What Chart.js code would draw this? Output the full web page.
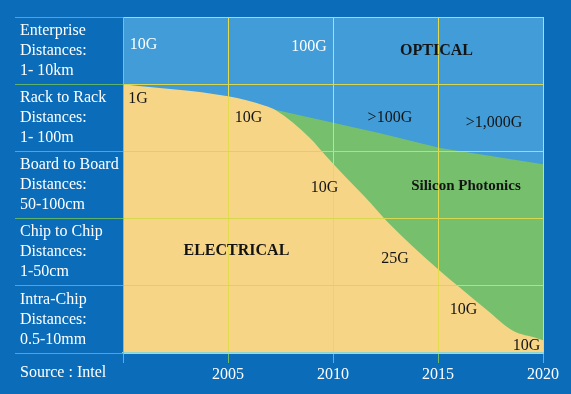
<!DOCTYPE html>
<html>
<head>
<meta charset="utf-8">
<title>Optical vs Electrical interconnect</title>
<script src="https://cdn.jsdelivr.net/npm/chart.js@4/dist/chart.umd.min.js"></script>
<style>
    html, body { margin: 0; padding: 0; background: #0b6db9; }
    #chart-wrap { width: 571px; height: 394px; }
</style>
</head>
<body>
<div id="chart-wrap"><canvas id="interconnectChart" width="571" height="394"></canvas></div>
<script>
// ── Data ──

var distanceBands = [
    ["Enterprise", "Distances:", "1- 10km"],
    ["Rack to Rack", "Distances:", "1- 100m"],
    ["Board to Board", "Distances:", "50-100cm"],
    ["Chip to Chip", "Distances:", "1-50cm"],
    ["Intra-Chip", "Distances:", "0.5-10mm"]
];
var yearTicks = [2000, 2005, 2010, 2015, 2020];
var sourceNote = "Source : Intel";

// top edge of the electrical region (band units, 0 = bottom, 5 = top)
var electricalYears  = [2000, 2005, 2006.76, 2007.24, 2008.9, 2009.7, 2010.6, 2011.8, 2012.6, 2014.95, 2016.05, 2017.33, 2018.57, 2019.71, 2020];
var electricalLevels = [4.00, 3.82, 3.68, 3.62, 3.20, 2.92, 2.62, 2.23, 1.95, 1.26, 0.97, 0.64, 0.33, 0.22, 0.19];

// top edge of the silicon photonics region
var photonicsYears  = [2007.24, 2012.24, 2015.1, 2020];
var photonicsLevels = [3.62, 3.27, 3.05, 2.81];

// in-plot labels
var noteTexts  = ["10G", "100G", "OPTICAL", "1G", "10G", ">100G", ">1,000G", "10G", "Silicon Photonics", "ELECTRICAL", "25G", "10G", "10G"];
var noteYears  = [2000.98, 2008.86, 2014.93, 2000.71, 2005.98, 2012.71, 2017.67, 2009.6, 2016.33, 2005.4, 2012.95, 2016.21, 2019.21];
var noteLevels = [4.58, 4.55, 4.49, 3.78, 3.50, 3.50, 3.42, 2.46, 2.49, 1.52, 1.40, 0.65, 0.10];
var noteBold   = [false, false, true, false, false, false, false, false, true, true, false, false, false];
var noteWhite  = [true, true, false, false, false, false, false, false, false, false, false, false, false];

// ── Helpers ──

var SERIF = "'Liberation Serif', 'Times New Roman', serif";

function toPoints(xs, ys) {
    return xs.map(function (x, i) { return { x: x, y: ys[i] }; });
}

var plotBackground = {
    id: "plotBackground",
    beforeDraw: function (chart) {
        var a = chart.chartArea;
        var ctx = chart.ctx;
        ctx.save();
        ctx.fillStyle = "#429cd8";
        ctx.fillRect(a.left, a.top, a.right - a.left, a.bottom - a.top);
        ctx.restore();
    }
};

var plotNotes = {
    id: "plotNotes",
    afterDraw: function (chart) {
        var ctx = chart.ctx;
        var xs = chart.scales.x;
        var ys = chart.scales.yv;
        ctx.save();
        ctx.textAlign = "center";
        ctx.textBaseline = "middle";
        noteTexts.forEach(function (t, i) {
            var size = noteBold[i] ? (t === "Silicon Photonics" ? 15 : 16) : 16;
            ctx.font = (noteBold[i] ? "bold " : "") + size + "px " + SERIF;
            ctx.fillStyle = noteWhite[i] ? "#ffffff" : "#141414";
            ctx.fillText(t, xs.getPixelForValue(noteYears[i]), ys.getPixelForValue(noteLevels[i]));
        });
        // source line sits in the x-axis row, under the label column
        ctx.textAlign = "left";
        ctx.font = "16px " + SERIF;
        ctx.fillStyle = "#ffffff";
        ctx.fillText(sourceNote, 20, xs.top + 20);
        ctx.restore();
    }
};

// ── Chart ──

new Chart(document.getElementById("interconnectChart"), {
    type: "line",
    data: {
        datasets: [
            {
                label: "Electrical",
                data: toPoints(electricalYears, electricalLevels),
                yAxisID: "yv",
                borderWidth: 0,
                pointRadius: 0,
                cubicInterpolationMode: "monotone",
                backgroundColor: "#f6d587",
                fill: "origin"
            },
            {
                label: "Silicon Photonics",
                data: toPoints(photonicsYears, photonicsLevels),
                yAxisID: "yv",
                borderWidth: 0,
                pointRadius: 0,
                backgroundColor: "#76c06d",
                fill: "origin"
            }
        ]
    },
    options: {
        responsive: false,
        animation: false,
        layout: { padding: { left: 20, top: 17, right: 28, bottom: 0 } },
        plugins: {
            legend: { display: false },
            tooltip: { enabled: false }
        },
        scales: {
            x: {
                type: "linear",
                min: 2000,
                max: 2020,
                afterBuildTicks: function (scale) {
                    scale.ticks = yearTicks.map(function (v) { return { value: v }; });
                },
                afterFit: function (scale) {
                    scale.height = 41;
                    scale.paddingLeft = 0;
                    scale.paddingRight = 0;
                },
                ticks: {
                    color: "#ffffff",
                    font: { family: SERIF, size: 16 },
                    padding: 2,
                    maxRotation: 0,
                    callback: function (v) { return v === 2000 ? "" : String(v); }
                },
                grid: {
                    z: 1,
                    color: "#e4dc4c",
                    tickColor: "#6cbc6a",
                    tickLength: 10,
                    lineWidth: 1
                },
                border: { z: 1, color: "#8fd4d0", width: 2 }
            },
            y: {
                type: "category",
                labels: distanceBands,
                offset: true,
                afterFit: function (scale) {
                    scale.width = 103;
                    scale.paddingTop = 0;
                    scale.paddingBottom = 0;
                },
                ticks: {
                    color: "#ffffff",
                    crossAlign: "far",
                    font: { family: SERIF, size: 16, lineHeight: 1.25 }
                },
                grid: {
                    z: 1,
                    offset: true,
                    color: "#d8d850",
                    tickColor: "#5cb46c",
                    tickLength: 108,
                    lineWidth: 1
                },
                border: { z: 1, color: "#86c87a", width: 1 }
            },
            yv: {
                type: "linear",
                display: false,
                min: 0,
                max: 5
            }
        }
    },
    plugins: [plotBackground, plotNotes]
});
</script>
</body>
</html>
